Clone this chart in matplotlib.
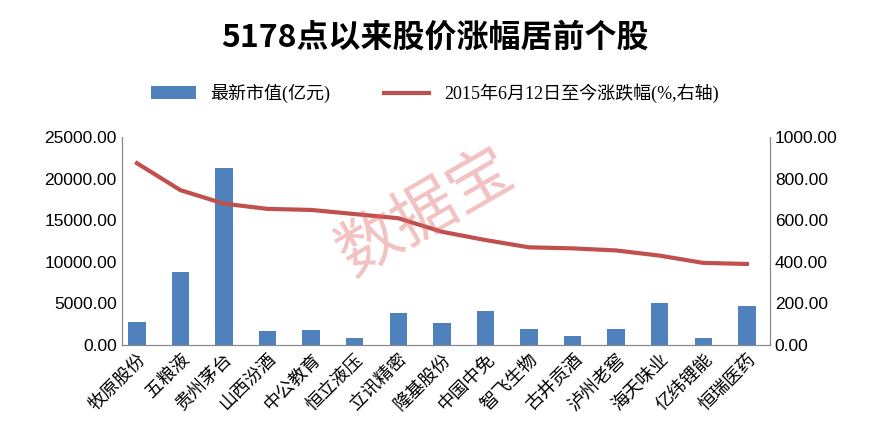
import matplotlib
matplotlib.use('Agg')
import matplotlib.pyplot as plt
import numpy as np

plt.rcParams['font.family'] = ['Noto Sans CJK SC', 'DejaVu Sans']

categories = ['牧原股份','五粮液','贵州茅台','山西汾酒','中公教育','恒立液压','立讯精密','隆基股份',
              '中国中免','智飞生物','古井贡酒','泸州老窖','海天味业','亿纬锂能','恒瑞医药']
market_cap = [2800, 8800, 21300, 1700, 1800, 900, 3900, 2700, 4100, 1900, 1100, 1900, 5000, 900, 4700]
gain_pct = [875, 745, 680, 655, 650, 630, 610, 545, 505, 470, 465, 455, 430, 395, 390]

fig = plt.figure(figsize=(8.69, 4.44), dpi=100)
ax = fig.add_axes([0.14, 0.223, 0.746, 0.468])
x = np.arange(len(categories))
b = ax.bar(x, market_cap, width=0.4, color='#4f81bd', label='最新市值(亿元)')
ax.set_ylim(0, 25000)
ax.set_yticks(np.arange(0, 25001, 5000))
ax.set_yticklabels([f'{v:.2f}' for v in np.arange(0, 25001, 5000)], fontsize=12.5, family=['Liberation Sans'])
ax.set_xlim(-0.35, len(categories) - 0.47)
ax.set_xticks(x)
ax.set_xticklabels(categories, rotation=45, ha='right', rotation_mode='anchor', fontsize=13)
ax2 = ax.twinx()
l, = ax2.plot(x, gain_pct, color='#c0504d', lw=3, label='2015年6月12日至今涨跌幅(%,右轴)')
ax2.set_ylim(0, 1000)
ax2.set_yticks(np.arange(0, 1001, 200))
ax2.set_yticklabels([f'{v:.2f}' for v in np.arange(0, 1001, 200)], fontsize=12.5, family=['Liberation Sans'])
for a in (ax, ax2):
    a.spines['top'].set_visible(False)
    for s in ('left', 'right', 'bottom'):
        a.spines[s].set_color('#888888')
    a.tick_params(length=0)
ax.tick_params(axis='x', pad=4)

fig.text(0.5, 0.915, '5178点以来股价涨幅居前个股', ha='center', va='center', fontsize=23, fontweight='bold')
fig.legend(handles=[b, l], loc='center', bbox_to_anchor=(0.5, 0.79), ncol=2, frameon=False,
           prop={'family': ['Liberation Serif', 'Noto Sans CJK SC'], 'size': 13},
           handlelength=2.5, columnspacing=3)
fig.text(0.49, 0.52, '数据宝', ha='center', va='center', fontsize=46, color='#e06666', alpha=0.4, rotation=30)
fig.savefig('out.png', dpi=100)
